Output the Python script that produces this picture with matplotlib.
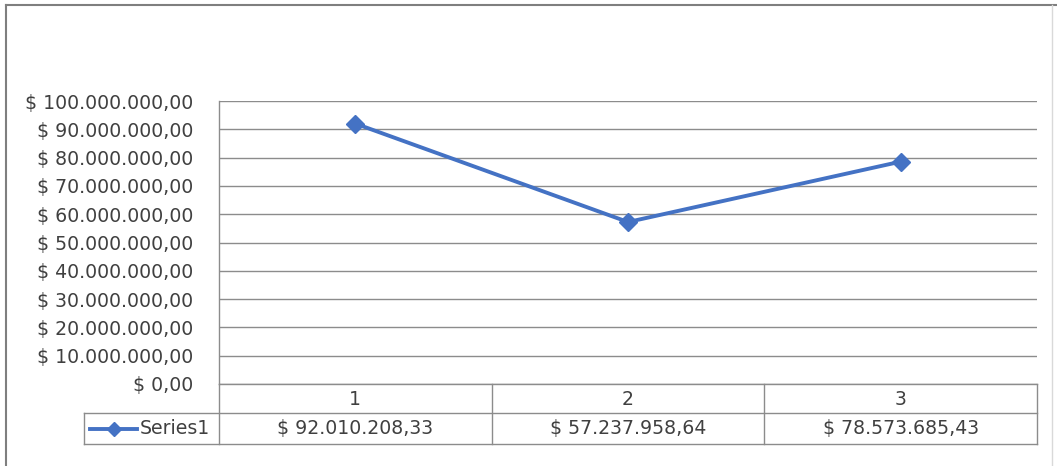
import matplotlib
matplotlib.use("Agg")
import matplotlib.pyplot as plt
from matplotlib.lines import Line2D
from matplotlib.transforms import blended_transform_factory

categories = ["1", "2", "3"]
series_name = "Series1"
values = [92010208.33, 57237958.64, 78573685.43]
y_ticks = [0, 10e6, 20e6, 30e6, 40e6, 50e6, 60e6, 70e6, 80e6, 90e6, 100e6]


def money(v):
    s = f"{v:,.2f}"
    s = s.replace(",", "X").replace(".", ",").replace("X", ".")
    return "$ " + s


W, H = 1057, 466
fig = plt.figure(figsize=(W / 100, H / 100), dpi=100)
fig.patch.set_facecolor("white")
plt.rcParams["font.family"] = ["DejaVu Sans"]

LINE_COLOR = "#4472C4"
GRID_COLOR = "#8C8C8C"
TEXT_COLOR = "#404040"
FS = 13.6


def fx(px):
    return px / W


def fy(py):
    return 1 - py / H


# plot area in pixel terms
left, right, top, bottom = 219, 1037, 101, 384
ax = fig.add_axes([fx(left), fy(bottom), fx(right) - fx(left), fy(top) - fy(bottom)])
ax.set_xlim(0.5, len(categories) + 0.5)
ax.set_ylim(0, 100e6)
ax.set_yticks(y_ticks)
ax.set_yticklabels([money(t) for t in y_ticks], color=TEXT_COLOR, fontsize=FS)
ax.tick_params(axis="y", length=0, pad=18.7)
ax.set_xticks([])
for side in ("top", "right", "bottom"):
    ax.spines[side].set_visible(False)
ax.spines["left"].set_color(GRID_COLOR)
ax.spines["left"].set_linewidth(1)
ax.grid(axis="y", color=GRID_COLOR, linewidth=1)
ax.set_axisbelow(True)

xs = list(range(1, len(categories) + 1))
ax.plot(xs, values, color=LINE_COLOR, linewidth=2.8, marker="D",
        markersize=9, markerfacecolor=LINE_COLOR, markeredgecolor=LINE_COLOR,
        zorder=3)

# data table under the plot area
tr = blended_transform_factory(ax.transData, fig.transFigure)
row1_top, row1_bot, row2_bot = 384, 413, 444
key_left = 84
lkw = dict(color=GRID_COLOR, linewidth=1, clip_on=False)

# horizontal borders
fig.add_artist(Line2D([fx(left), fx(right)], [fy(row1_top)] * 2,
                      transform=fig.transFigure, **lkw))
for yy in (row1_bot, row2_bot):
    fig.add_artist(Line2D([fx(key_left), fx(right)], [fy(yy)] * 2,
                          transform=fig.transFigure, **lkw))
# vertical borders
for k in range(len(categories) + 1):
    fig.add_artist(Line2D([k + 0.5, k + 0.5], [fy(row1_top), fy(row2_bot)],
                          transform=tr, **lkw))
fig.add_artist(Line2D([fx(key_left)] * 2, [fy(row1_bot), fy(row2_bot)],
                      transform=fig.transFigure, **lkw))

# category row and value row
for x, cat, v in zip(xs, categories, values):
    fig.text(x, fy((row1_top + row1_bot) / 2 + 1), cat, transform=tr,
             ha="center", va="center", fontsize=FS, color=TEXT_COLOR)
    fig.text(x, fy((row1_bot + row2_bot) / 2), money(v), transform=tr,
             ha="center", va="center", fontsize=FS, color=TEXT_COLOR)

# legend key in the table
ky = fy((row1_bot + row2_bot) / 2)
fig.add_artist(Line2D([fx(90), fx(137)], [ky, ky], transform=fig.transFigure,
                      color=LINE_COLOR, linewidth=2.8))
fig.add_artist(Line2D([fx(113.5)], [ky], transform=fig.transFigure,
                      color=LINE_COLOR, marker="D", markersize=7,
                      linestyle="none"))
fig.text(fx(140), ky, series_name, ha="left", va="center", fontsize=FS,
         color=TEXT_COLOR)

# chart frame
frame = dict(color="#7F7F7F", linewidth=1.5, transform=fig.transFigure)
fig.add_artist(Line2D([fx(6), fx(1057)], [fy(5), fy(5)], **frame))
fig.add_artist(Line2D([fx(6), fx(6)], [fy(5), fy(466)], **frame))
fig.add_artist(Line2D([fx(1052), fx(1052)], [fy(5), fy(466)],
                      color="#D9D9D9", linewidth=1, transform=fig.transFigure))

fig.savefig("out.png", dpi=100, facecolor="white")
